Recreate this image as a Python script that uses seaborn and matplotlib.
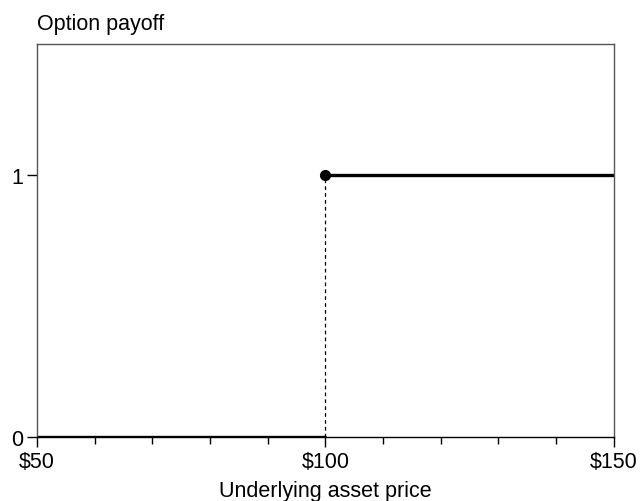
import matplotlib
matplotlib.use("Agg")
import matplotlib.pyplot as plt
import seaborn as sns
import pandas as pd

# Data
price_low = [50, 100]
payoff_low = [0, 0]
price_high = [100, 150]
payoff_high = [1, 1]
strike = 100
x_ticks = [50, 100, 150]
x_tick_labels = ["$50", "$100", "$150"]
x_minor = [60, 70, 80, 90, 110, 120, 130, 140]
y_ticks = [0, 1]

sns.set_style("white")
plt.rcParams["font.family"] = ["Liberation Sans", "DejaVu Sans"]
plt.rcParams["text.color"] = "black"
plt.rcParams["axes.labelcolor"] = "black"

fig = plt.figure(figsize=(6.4, 5.02), dpi=100)
ax = fig.add_axes([0.058, 0.1275, 0.901, 0.7825])

low = pd.DataFrame({"price": price_low, "payoff": payoff_low})
high = pd.DataFrame({"price": price_high, "payoff": payoff_high})
sns.lineplot(data=low, x="price", y="payoff", color="black", linewidth=2.4, ax=ax)
sns.lineplot(data=high, x="price", y="payoff", color="black", linewidth=2.4, ax=ax)
ax.plot([strike, strike], [0, 1], color="black", linestyle=(0, (3, 2.5)), linewidth=0.9)
ax.plot([strike], [1], "o", color="black", markersize=7)

ax.set_xlim(50, 150)
ax.set_ylim(0, 1.5)
ax.set_xticks(x_ticks)
ax.set_xticklabels(x_tick_labels)
ax.set_xticks(x_minor, minor=True)
ax.set_yticks(y_ticks)
ax.tick_params(axis="both", which="major", direction="out", length=7, width=1,
               colors="black", labelsize=15.5, bottom=True, left=True, pad=3)
ax.tick_params(axis="x", which="minor", direction="out", length=5, width=1,
               colors="black", bottom=True)
for s in ax.spines.values():
    s.set_color("#555555")
    s.set_linewidth(1)
ax.spines["bottom"].set_color("black")

ax.set_xlabel("Underlying asset price", fontsize=15.5, labelpad=6)
ax.set_ylabel("")
fig.text(0.058, 0.93, "Option payoff", fontsize=15.5, ha="left", va="bottom")

fig.savefig("out.png", dpi=100)
